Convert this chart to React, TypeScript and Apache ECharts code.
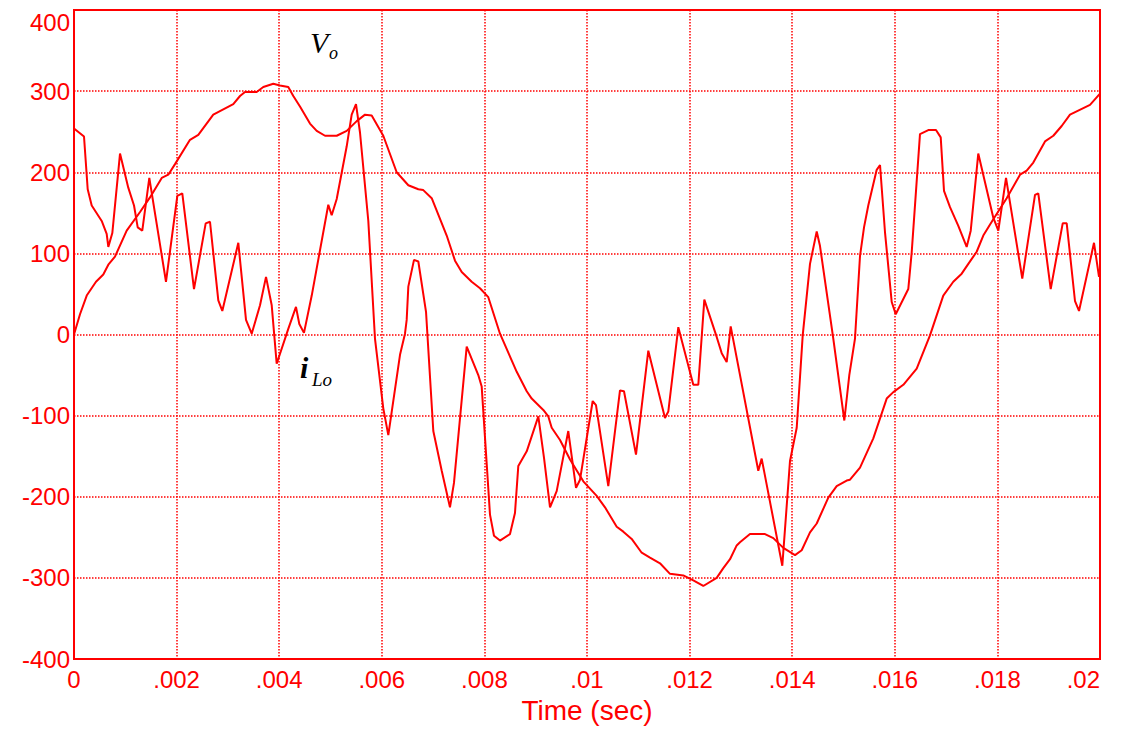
import React, { useEffect, useRef } from "react";
import * as echarts from "echarts";

// Vo (output voltage) samples: time (s), value
const voTime = [
  0, 0.000117, 0.000248, 0.000429, 0.000571, 0.000669, 0.000799, 0.001027, 0.001287, 0.001481,
  0.00171, 0.001838, 0.001969, 0.002261, 0.002423, 0.002715, 0.003105, 0.003236, 0.003333, 0.003561,
  0.00369, 0.003885, 0.004016, 0.004177, 0.004275, 0.004405, 0.0046, 0.004731, 0.004893, 0.005121,
  0.005316, 0.005511, 0.005673, 0.005803, 0.006029, 0.00629, 0.006517, 0.006712, 0.006809, 0.006973,
  0.007265, 0.007427, 0.007558, 0.007752, 0.007914, 0.008076, 0.008304, 0.00863, 0.008825, 0.008922,
  0.009148, 0.009246, 0.009312, 0.009474, 0.009604, 0.009669, 0.009928, 0.010189, 0.010351, 0.010579,
  0.010708, 0.010871, 0.011066, 0.011228, 0.011423, 0.011618, 0.011877, 0.012072, 0.012267, 0.012528,
  0.012657, 0.012788, 0.012918, 0.012982, 0.013177, 0.01347, 0.013632, 0.013827, 0.014055, 0.014185,
  0.014347, 0.014478, 0.014704, 0.014867, 0.015062, 0.015127, 0.015322, 0.015581, 0.015842, 0.015971,
  0.016166, 0.016427, 0.016686, 0.016945, 0.01714, 0.017304, 0.017433, 0.017596, 0.017725, 0.01792,
  0.018181, 0.018441, 0.018571, 0.0187, 0.018928, 0.01909, 0.019253, 0.019415, 0.019805, 0.02,
];
const voValue = [
  0, 25, 48, 65, 74, 86, 96, 128, 151, 169,
  193, 197, 210, 240, 246, 271, 284, 294, 299, 299,
  305, 309, 307, 305, 294, 281, 260, 251, 245, 245,
  251, 263, 271, 270, 245, 200, 184, 179, 178, 168,
  122, 91, 77, 65, 57, 46, 1, -46, -70, -79,
  -93, -101, -115, -130, -146, -154, -181, -199, -213, -237,
  -243, -252, -269, -275, -282, -295, -297, -303, -310, -300,
  -288, -277, -260, -256, -246, -246, -251, -263, -272, -266,
  -244, -233, -201, -187, -180, -179, -164, -128, -79, -71,
  -62, -42, -1, 48, 65, 75, 87, 102, 122, 142,
  168, 197, 202, 212, 238, 245, 257, 271, 283, 297,
];

// iLo (inductor current) samples: time (s), value
const iloTime = [
  0, 0.000195, 0.000267, 0.000345, 0.00054, 0.000637, 0.000669, 0.000747, 0.000897, 0.001058,
  0.00117, 0.001242, 0.001331, 0.001468, 0.001793, 0.002014, 0.002111, 0.002339, 0.002567, 0.002651,
  0.002813, 0.002891, 0.003203, 0.003353, 0.003464, 0.003626, 0.003743, 0.003854, 0.003951, 0.004177,
  0.004327, 0.004392, 0.004483, 0.004634, 0.004957, 0.005023, 0.005121, 0.005316, 0.005413, 0.005497,
  0.005575, 0.005737, 0.005867, 0.006029, 0.006127, 0.006355, 0.006452, 0.006485, 0.006517, 0.006628,
  0.006712, 0.006862, 0.007004, 0.007168, 0.007329, 0.007407, 0.007655, 0.007881, 0.007947, 0.008109,
  0.008187, 0.008304, 0.008499, 0.008596, 0.008661, 0.008825, 0.009051, 0.009162, 0.009279, 0.009409,
  0.009635, 0.009786, 0.009864, 0.010111, 0.010175, 0.010415, 0.010643, 0.010721, 0.010955, 0.011195,
  0.01152, 0.011585, 0.01178, 0.012072, 0.01217, 0.012287, 0.012528, 0.012626, 0.012723, 0.012801,
  0.013339, 0.013405, 0.013807, 0.013957, 0.014088, 0.014205, 0.014347, 0.014478, 0.014542, 0.014801,
  0.015016, 0.015113, 0.015224, 0.015322, 0.0154, 0.015483, 0.015647, 0.015712, 0.015809, 0.01594,
  0.016018, 0.016263, 0.016329, 0.016491, 0.016653, 0.016803, 0.016895, 0.016959, 0.017076, 0.017238,
  0.017401, 0.01748, 0.017627, 0.01792, 0.018018, 0.018168, 0.018485, 0.018733, 0.018797, 0.019039,
  0.019273, 0.019351, 0.019513, 0.019591, 0.019883, 0.019981,
];
const iloValue = [
  254, 244, 179, 159, 140, 124, 108, 125, 223, 181,
  159, 132, 128, 193, 65, 171, 174, 56, 137, 139,
  42, 29, 113, 18, 1, 36, 71, 36, -36, 7,
  34, 13, 2, 48, 160, 147, 167, 232, 271, 284,
  249, 140, -5, -91, -124, -25, 1, 18, 59, 92,
  90, 28, -119, -168, -213, -183, -15, -50, -64, -222,
  -248, -254, -246, -220, -162, -144, -101, -152, -213, -193,
  -119, -189, -179, -82, -87, -187, -69, -70, -148, -20,
  -103, -95, 9, -62, -62, 43, -3, -23, -34, 10,
  -168, -153, -285, -156, -115, -1, 87, 127, 109, -5,
  -106, -50, -5, 97, 132, 159, 203, 209, 126, 40,
  25, 56, 101, 247, 252, 252, 243, 177, 157, 134,
  108, 128, 223, 144, 128, 193, 69, 172, 174, 56,
  137, 137, 41, 29, 113, 71,
];

const xMin = 0;
const xMax = 0.02;
const xStep = 0.002;
const yMin = -400;
const yMax = 400;
const yStep = 100;
const xTitle = "Time (sec)";

const RED = "#ff0000";
const SANS = "'Liberation Sans', Arial, sans-serif";
const SERIF = "'Liberation Serif', 'Times New Roman', serif";

function fmtX(v: number): string {
  if (Math.abs(v) < 1e-12) return "0";
  return String(+v.toFixed(3)).replace(/^0\./, ".");
}

export default function App() {
  const ref = useRef<HTMLDivElement>(null);
  useEffect(() => {
    if (!ref.current) return;
    const chart = echarts.init(ref.current, undefined, { renderer: "svg" });
    const vo = voTime.map((t, i) => [t, voValue[i]]);
    const il = iloTime.map((t, i) => [t, iloValue[i]]);
    chart.setOption({
      animation: false,
      backgroundColor: "#ffffff",
      grid: {
        left: 74,
        right: 26,
        top: 10,
        bottom: 67,
        show: true,
        borderColor: RED,
        borderWidth: 2,
        backgroundColor: "transparent",
      },
      xAxis: {
        type: "value",
        min: xMin,
        max: xMax,
        interval: xStep,
        name: xTitle,
        nameLocation: "middle",
        nameGap: 37,
        nameTextStyle: { color: RED, fontSize: 28, fontFamily: SANS },
        axisLine: { show: true, onZero: false, lineStyle: { color: RED, width: 2 } },
        axisTick: { show: false },
        axisLabel: {
          color: RED,
          fontSize: 24,
          fontFamily: SANS,
          margin: 8,
          formatter: fmtX,
          alignMaxLabel: "right",
        },
        splitLine: { show: true, lineStyle: { color: RED, width: 1.5, type: [1.5, 1.5] } },
      },
      yAxis: {
        type: "value",
        min: yMin,
        max: yMax,
        interval: yStep,
        axisLine: { show: true, onZero: false, lineStyle: { color: RED, width: 2 } },
        axisTick: { show: false },
        axisLabel: {
          color: RED,
          fontSize: 24,
          fontFamily: SANS,
          margin: 4,
          verticalAlignMaxLabel: "top",
        },
        splitLine: { show: true, lineStyle: { color: RED, width: 1.5, type: [1.5, 1.5] } },
      },
      series: [
        {
          name: "Vo",
          type: "line",
          data: vo,
          showSymbol: false,
          symbol: "none",
          lineStyle: { color: RED, width: 2 },
          z: 3,
        },
        {
          name: "iLo",
          type: "line",
          data: il,
          showSymbol: false,
          symbol: "none",
          lineStyle: { color: RED, width: 2 },
          z: 3,
        },
      ],
      graphic: [
        {
          type: "text",
          x: 310,
          y: 42,
          style: { text: "V", fontSize: 30, fontStyle: "italic", fontFamily: SERIF, fill: "#000", verticalAlign: "middle", align: "left" },
        },
        {
          type: "text",
          x: 329,
          y: 53,
          style: { text: "o", fontSize: 18, fontStyle: "italic", fontFamily: SERIF, fill: "#000", verticalAlign: "middle", align: "left" },
        },
        {
          type: "text",
          x: 300,
          y: 367,
          style: { text: "i", fontSize: 30, fontStyle: "italic", fontWeight: "bold", fontFamily: SERIF, fill: "#000", verticalAlign: "middle", align: "left" },
        },
        {
          type: "text",
          x: 312,
          y: 379,
          style: { text: "Lo", fontSize: 19, fontStyle: "italic", fontFamily: SERIF, fill: "#000", verticalAlign: "middle", align: "left" },
        },
      ],
    });
    return () => chart.dispose();
  }, []);
  return (
    <div
      ref={ref}
      style={{ position: "absolute", left: 0, top: 0, width: 1126, height: 729, background: "#fff" }}
    />
  );
}
